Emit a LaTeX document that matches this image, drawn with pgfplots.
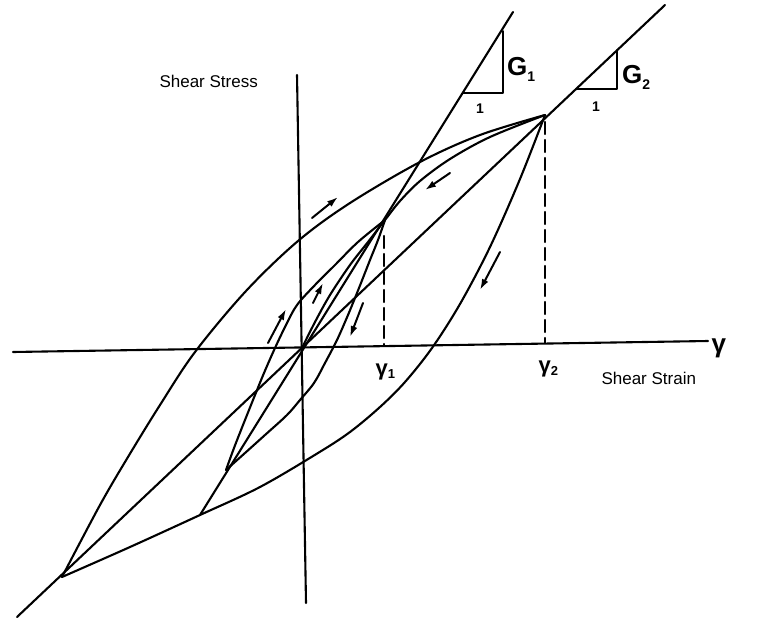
\documentclass[border=0pt]{standalone}
\usepackage{pgfplots}
\pgfplotsset{compat=1.18}
\usepackage{fontspec}
\setmainfont{Liberation Sans}
\usetikzlibrary{arrows.meta}

\begin{document}
\begin{tikzpicture}
\begin{axis}[
  scale only axis, width=771bp, height=618bp,
  xmin=0, xmax=771, ymin=0, ymax=618, y dir=reverse,
  hide axis, clip=false,
  ln/.style={black, no markers, solid, line width=2.1bp, line cap=round, line join=round},
  cv/.style={ln, smooth, tension=0.55},
  arr/.style={ln, line width=2bp, -{Latex[length=11bp,width=7bp]}},
]
% page frame
\path (axis cs:0,0) (axis cs:771,618);

% stress and strain axes
\addplot[ln] coordinates {(13,352) (708,341)};
\addplot[ln] coordinates {(297,75) (306,603)};

% secant lines G2 and G1
\addplot[ln] coordinates {(17,617) (665,5)};
\addplot[ln] coordinates {(200,515) (513,12)};

% large loop, loading branch
\addplot[cv] coordinates {
  (62,577) (100,505) (128,457) (160,405) (195,352) (246,291) (298,241)
  (350,203) (420,162) (480,135) (545,115)};
% large loop, unloading branch
\addplot[cv] coordinates {
  (545,115) (520,179) (490,247) (460,304) (432,348) (405,382) (380,407)
  (350,432) (318,453) (260,487) (200,515) (130,547) (62,577)};

% backbone from the origin
\addplot[cv] coordinates {
  (302,348) (315,322) (330,295) (350,265) (368,242) (385,220) (400,201)
  (420,181) (450,159) (490,137) (545,115)};

% small loop
\addplot[cv] coordinates {
  (226,470) (234,448) (243,425) (253,400) (264,373) (275,348) (286,325)
  (297,305) (315,285) (335,265) (358,242) (385,220)};
\addplot[cv] coordinates {
  (385,220) (378,240) (370,260) (359,288) (348,315) (337,340) (325,363)
  (314,383) (300,400) (287,415) (265,435) (245,453) (226,470)};

% strain amplitudes
\addplot[ln, dash pattern=on 12bp off 6bp] coordinates {(384,236) (384,345)};
\addplot[ln, dash pattern=on 12bp off 6bp] coordinates {(545,122) (545,343)};

% slope triangles
\addplot[ln, line width=1.8bp] coordinates {(463,93) (503,93) (503,31)};
\addplot[ln, line width=1.8bp] coordinates {(576,89) (617,89) (617,50)};

% direction arrows
\addplot[arr] coordinates {(312,218) (338,197)};
\addplot[arr] coordinates {(450,173) (425,190)};
\addplot[arr] coordinates {(500,252) (480,290)};
\addplot[arr] coordinates {(313,303) (323,283)};
\addplot[arr] coordinates {(363,303) (350,337)};
\addplot[arr] coordinates {(268,343) (286,309)};

% labels
\node[anchor=base west, font=\fontsize{17bp}{20bp}\selectfont] at (axis cs:156,88) {Shear Stress};
\node[anchor=base west, font=\fontsize{17bp}{20bp}\selectfont] at (axis cs:598,384) {Shear Strain};
\node[anchor=base west, font=\fontsize{26bp}{30bp}\selectfont\bfseries] at (axis cs:708,352) {γ};
\node[anchor=base west, font=\fontsize{22bp}{26bp}\selectfont\bfseries] at (axis cs:372,375) {γ\raisebox{-3bp}{\fontsize{13bp}{15bp}\selectfont 1}};
\node[anchor=base west, font=\fontsize{22bp}{26bp}\selectfont\bfseries] at (axis cs:535,372) {γ\raisebox{-3bp}{\fontsize{13bp}{15bp}\selectfont 2}};
\node[anchor=base west, font=\fontsize{26bp}{30bp}\selectfont\bfseries, inner sep=0pt] at (axis cs:507,76) {G\raisebox{-6bp}{\fontsize{14bp}{16bp}\selectfont 1}};
\node[anchor=base west, font=\fontsize{26bp}{30bp}\selectfont\bfseries, inner sep=0pt] at (axis cs:622,84) {G\raisebox{-6bp}{\fontsize{14bp}{16bp}\selectfont 2}};
\node[anchor=base, font=\fontsize{14bp}{16bp}\selectfont\bfseries, inner sep=0pt] at (axis cs:480,113) {1};
\node[anchor=base, font=\fontsize{14bp}{16bp}\selectfont\bfseries, inner sep=0pt] at (axis cs:596,111) {1};
\end{axis}
\end{tikzpicture}
\end{document}
